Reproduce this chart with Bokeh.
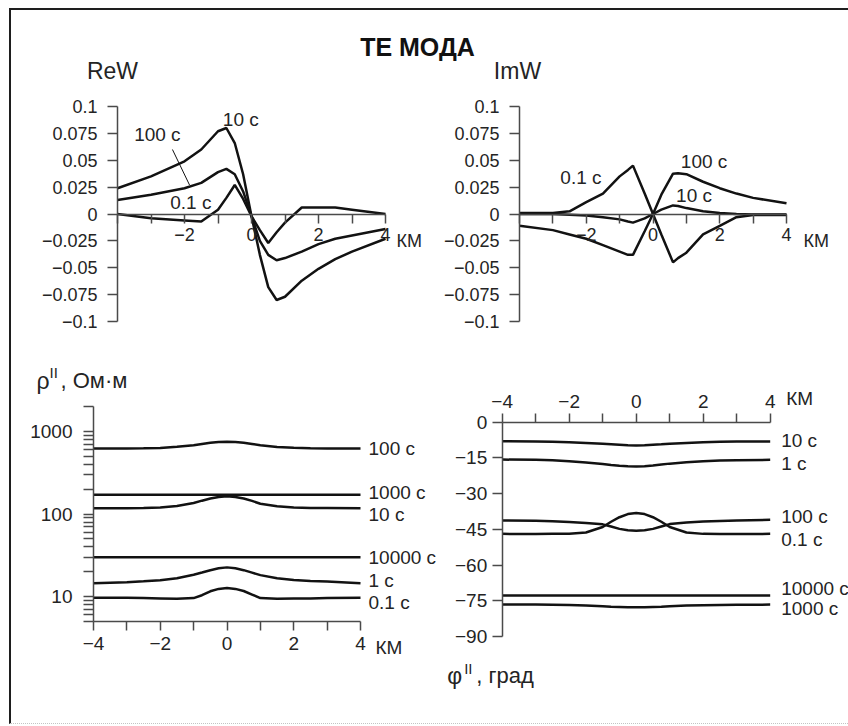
from bokeh.plotting import figure
from bokeh.models import FixedTicker, Label, LinearAxis, LogAxis, Range1d, LogScale
from bokeh.layouts import column, row
from bokeh.embed import file_html
from bokeh.resources import INLINE
import math

FONT = "Liberation Sans"
INK = "#121212"
AXC = "#4a4a4a"
TXT = "#242424"

# ---------------- data ----------------
km_ticks = [-4, -3, -2, -1, 0, 1, 2, 3, 4]

# ReW
rew_x = [-4, -3, -2, -1.5, -1, -0.75, -0.5, -0.25, 0, 0.25, 0.5, 0.75, 1, 1.5, 2, 2.5, 3, 4]
rew_10s = [0.024, 0.035, 0.049, 0.060, 0.077, 0.080, 0.066, 0.037, -0.002, -0.038, -0.068, -0.080,
           -0.077, -0.062, -0.051, -0.042, -0.035, -0.023]
rew_100s = [0.013, 0.018, 0.024, 0.029, 0.039, 0.042, 0.037, 0.021, -0.002, -0.025, -0.038, -0.043,
            -0.041, -0.035, -0.028, -0.023, -0.020, -0.014]
rew_01s = [0.0, -0.004, -0.006, -0.007, 0.004, 0.015, 0.027, 0.014, -0.002, -0.015, -0.027, -0.017,
           -0.008, 0.006, 0.006, 0.006, 0.004, 0.0]

# ImW
imw_x = [-4, -3, -2.5, -2, -1.5, -1, -0.75, -0.6, -0.25, 0, 0.25, 0.6, 0.75, 1, 1.5, 2, 2.5, 3, 4]
imw_01s = [0.001, 0.001, 0.0025, 0.011, 0.019, 0.035, 0.041, 0.045, 0.019, 0.0, -0.019, -0.045,
           -0.041, -0.036, -0.019, -0.011, -0.003, -0.001, -0.001]
imw_100s = [-0.011, -0.015, -0.019, -0.023, -0.029, -0.035, -0.038, -0.038, -0.016, 0.0, 0.018, 0.0375,
            0.038, 0.037, 0.030, 0.024, 0.019, 0.015, 0.010]
imw_10s = [0.0, 0.0, -0.0006, -0.0015, -0.003, -0.005, -0.007, -0.008, -0.004, 0.0, 0.004, 0.008,
           0.0075, 0.0055, 0.0025, 0.001, 0.0, -0.0005, -0.0005]

# apparent resistivity, Ohm*m (log scale)
rho_x = [-4, -3, -2.5, -2, -1.5, -1, -0.75, -0.5, -0.25, 0, 0.25, 0.5, 0.75, 1, 1.5, 2, 2.5, 3, 4]
rho_100s = [622, 622, 624, 630, 650, 680, 705, 728, 744, 750, 744, 728, 705, 678, 648, 632, 626, 622, 622]
rho_1000s = [171, 171, 171, 171, 171, 171, 171, 171, 171, 171, 171, 171, 171, 171, 171, 171, 171, 171, 171]
rho_10s = [117, 117, 118, 120, 125, 136, 145, 154, 161, 164, 161, 154, 144, 133, 124, 120, 118, 118, 117]
rho_10000s = [30, 30, 30, 30, 30, 30, 30, 30, 30, 30, 30, 30, 30, 30, 30, 30, 30, 30, 30]
rho_1s = [14.5, 14.9, 15.3, 15.8, 16.7, 18.4, 19.6, 20.9, 22.0, 22.6, 22.0, 20.9, 19.5, 18.2, 16.7,
          15.9, 15.5, 15.2, 14.5]
rho_01s = [9.7, 9.7, 9.6, 9.5, 9.4, 9.6, 10.4, 11.6, 12.4, 12.7, 12.4, 11.7, 10.6, 9.6, 9.4,
           9.5, 9.5, 9.6, 9.7]

# phase, degrees
phi_x = [-4, -3, -2.5, -2, -1.5, -1, -0.75, -0.5, -0.25, 0, 0.25, 0.5, 0.75, 1, 1.5, 2, 2.5, 3, 4]
phi_10s = [-8.0, -8.1, -8.2, -8.4, -8.7, -9.1, -9.3, -9.5, -9.7, -9.8, -9.7, -9.5, -9.3, -9.0, -8.7,
           -8.4, -8.2, -8.1, -8.1]
phi_1s = [-15.7, -15.8, -16.0, -16.4, -16.9, -17.6, -18.0, -18.3, -18.5, -18.6, -18.5, -18.2, -17.8,
          -17.4, -16.8, -16.4, -16.1, -16.0, -15.8]
phi_100s = [-41.3, -41.4, -41.6, -41.9, -42.3, -42.9, -43.8, -44.8, -45.4, -45.6, -45.4, -44.8, -43.8,
            -42.8, -42.1, -41.7, -41.5, -41.3, -41.0]
phi_01s = [-46.9, -47.0, -46.9, -46.8, -46.3, -44.0, -41.8, -39.9, -38.6, -38.1, -38.6, -39.9, -41.8,
           -44.0, -46.3, -46.9, -47.0, -47.0, -46.9]
phi_10000s = [-72.8, -72.8, -72.8, -72.8, -72.8, -72.8, -72.8, -72.8, -72.8, -72.8, -72.8, -72.8, -72.8,
              -72.8, -72.8, -72.8, -72.8, -72.8, -72.8]
phi_1000s = [-76.6, -76.6, -76.7, -76.8, -77.0, -77.3, -77.5, -77.6, -77.7, -77.7, -77.7, -77.6, -77.5,
             -77.3, -77.0, -76.9, -76.8, -76.7, -76.6]

w_ticks = [-0.1, -0.075, -0.05, -0.025, 0, 0.025, 0.05, 0.075, 0.1]
rho_ticks = [10, 100, 1000]
rho_minor = [5, 6, 7, 8, 9, 20, 30, 40, 50, 60, 70, 80, 90, 200, 300, 400, 500, 600, 700, 800, 900, 2000]
phi_ticks = [-90, -75, -60, -45, -30, -15, 0]

# curve labels: anchor (data units) and text
rew_lab = [(-0.32, 0.088, "10 с"), (-2.81, 0.074, "100 с"), (-1.81, 0.011, "0.1 с")]
imw_lab = [(-2.16, 0.034, "0.1 с"), (1.53, 0.049, "100 с"), (1.23, 0.017, "10 с")]
rho_lab = [(622, "100 с"), (183, "1000 с"), (100, "10 с"), (29.4, "10000 с"), (15.6, "1 с"), (8.5, "0.1 с")]
phi_lab = [(-7.7, "10 с"), (-17.2, "1 с"), (-39.6, "100 с"), (-49.4, "0.1 с"), (-70.0, "10000 с"),
           (-78.4, "1000 с")]
KM = "КМ"


# ---------------- helpers ----------------
def minus(v):
    return ("%g" % v).replace("-", "\u2212")


def km_labels(show_first=True):
    return {t: (minus(t) if (t % 2 == 0 and (show_first or t != -4)) else "") for t in km_ticks}


def lin_range(v0, v1, p0, p1, total):
    """range whose value v0 sits at pixel p0 and v1 at pixel p1 (pixels from left / bottom)"""
    k = (v1 - v0) / (p1 - p0)
    return v0 - p0 * k, v0 + (total - p0) * k


def log_range(v0, v1, p0, p1, total):
    a, b = lin_range(math.log10(v0), math.log10(v1), p0, p1, total)
    return 10 ** a, 10 ** b


def style_axis(ax, tick_out=10, standoff=8, size="18px"):
    ax.axis_line_color = AXC
    ax.axis_line_width = 1.5
    ax.major_tick_line_color = AXC
    ax.major_tick_line_width = 1.5
    ax.major_tick_in = 0
    ax.major_tick_out = tick_out
    ax.minor_tick_line_color = AXC
    ax.minor_tick_line_width = 1.5
    ax.minor_tick_in = 0
    ax.minor_tick_out = 0
    ax.major_label_text_font = FONT
    ax.major_label_text_font_size = size
    ax.major_label_text_color = TXT
    ax.major_label_standoff = standoff


def add_axis(p, side, loc, bounds, ticks, overrides, tick_out=10, standoff=8, minor=None,
             log=False, rn="default", size="18px"):
    cls = LogAxis if log else LinearAxis
    ticker = FixedTicker(ticks=ticks, minor_ticks=minor) if minor else FixedTicker(ticks=ticks)
    ax = cls(fixed_location=loc, bounds=bounds, ticker=ticker, major_label_overrides=overrides,
             x_range_name=rn, y_range_name=rn)
    style_axis(ax, tick_out, standoff, size)
    if minor:
        ax.minor_tick_out = tick_out
    p.add_layout(ax, side)
    return ax


def base_fig(width, height, xr, yr):
    p = figure(width=width, height=height, min_border=0, toolbar_location=None,
               output_backend="svg", x_axis_type=None, y_axis_type=None,
               x_range=Range1d(*xr), y_range=Range1d(*yr))
    p.grid.visible = False
    p.outline_line_color = None
    p.background_fill_color = "white"
    p.border_fill_color = "white"
    return p


def lab(p, x, y, text, size="19px", align="left", baseline="middle", xo=0, yo=0, bold=False,
        rn="default", color=TXT):
    p.add_layout(Label(x=x, y=y, text=text, text_font=FONT, text_font_size=size,
                       text_color=color, text_align=align, text_baseline=baseline,
                       x_offset=xo, y_offset=yo, x_range_name=rn, y_range_name=rn,
                       text_font_style="bold" if bold else "normal"))


# ---------------- top row: ReW and ImW in one canvas ----------------
TW, TH = 837, 330
w_yr = lin_range(-0.1, 0.1, 19, 234, TH)
top = base_fig(TW, TH, lin_range(-4, 4, 106, 374, TW), w_yr)
top.extra_x_ranges = {"imw": Range1d(*lin_range(-4, 4, 508, 775, TW))}
top.extra_y_ranges = {"imw": Range1d(*w_yr)}

for rn, xs, series, labels, name, name_dx, km_dx in [
        ("default", rew_x, [rew_10s, rew_100s, rew_01s], rew_lab, "ReW", -5, 11),
        ("imw", imw_x, [imw_01s, imw_100s, imw_10s], imw_lab, "ImW", -2, 17)]:
    add_axis(top, "left", -4, (-0.1, 0.1), w_ticks, {t: minus(t) for t in w_ticks},
             tick_out=10, standoff=10, rn=rn)
    add_axis(top, "below", 0, (-4, 4), km_ticks, km_labels(show_first=False),
             tick_out=9, standoff=5, rn=rn)
    for ys in series:
        top.line(xs, ys, line_color=INK, line_width=2.5, x_range_name=rn, y_range_name=rn)
    for (x, y, t) in labels:
        lab(top, x, y, t, align="center", rn=rn)
    lab(top, -4, 0.1, name, size="23px", align="center", xo=name_dx, yo=36, rn=rn)
    lab(top, 4, 0, KM, size="18px", xo=km_dx, yo=-27, rn=rn)

top.line([-2.36, -1.85], [0.060, 0.027], line_color=INK, line_width=1)
lab(top, -4, 0.1, "ТЕ МОДА", size="25px", align="center", xo=300, yo=60, bold=True, color="#111")

# ---------------- rho ----------------
BH = 383
p3 = base_fig(432, BH, lin_range(-4, 4, 82, 349, 432), log_range(5, 2000, 102, 317, BH))
p3.y_scale = LogScale()
add_axis(p3, "left", -4, (5, 2000), rho_ticks, {t: str(t) for t in rho_ticks},
         tick_out=10, standoff=11, minor=rho_minor, log=True, size="19px")
add_axis(p3, "below", 5, (-4, 4), km_ticks, km_labels(), tick_out=9, standoff=6, size="19px")
for ys in [rho_100s, rho_1000s, rho_10s, rho_10000s, rho_1s, rho_01s]:
    p3.line(rho_x, ys, line_color=INK, line_width=2.5)
for (y, t) in rho_lab:
    lab(p3, 4, y, t, xo=8)
lab(p3, 4, 5, KM, xo=15, yo=-26)
lab(p3, -4, 2000, "ρ", size="23px", baseline="alphabetic", xo=-57, yo=26)
lab(p3, -4, 2000, "II", size="15px", baseline="alphabetic", xo=-44, yo=34)
lab(p3, -4, 2000, ", Ом·м", size="22px", baseline="alphabetic", xo=-33, yo=26)

# ---------------- phi ----------------
p4 = base_fig(405, BH, lin_range(-4, 4, 58.7, 326.7, 405), lin_range(-90, 0, 87, 301.3, BH))
add_axis(p4, "above", 0, (-4, 4), km_ticks, km_labels(), tick_out=9, standoff=5, size="19px")
add_axis(p4, "left", -4, (-90, 0), phi_ticks, {t: minus(t) for t in phi_ticks},
         tick_out=10, standoff=5, size="19px")
for ys in [phi_10s, phi_1s, phi_100s, phi_01s, phi_10000s, phi_1000s]:
    p4.line(phi_x, ys, line_color=INK, line_width=2.5)
for (y, t) in phi_lab:
    lab(p4, 4, y, t, xo=11)
lab(p4, 4, 0, KM, xo=16, yo=24)
lab(p4, -4, -90, "φ", size="23px", baseline="alphabetic", xo=-55, yo=-39)
lab(p4, -4, -90, "II", size="15px", baseline="alphabetic", xo=-38, yo=-32)
lab(p4, -4, -90, ", град", size="22px", baseline="alphabetic", xo=-26, yo=-39)

root = column(top, row(p3, p4),
              styles={"margin-left": "9px", "margin-top": "8px",
                      "border-left": "2px solid #1e1e1e", "border-top": "2px solid #1e1e1e",
                      "border-bottom": "1px dotted #c4c4c4"})

open("out.html", "w").write(file_html(root, INLINE))
